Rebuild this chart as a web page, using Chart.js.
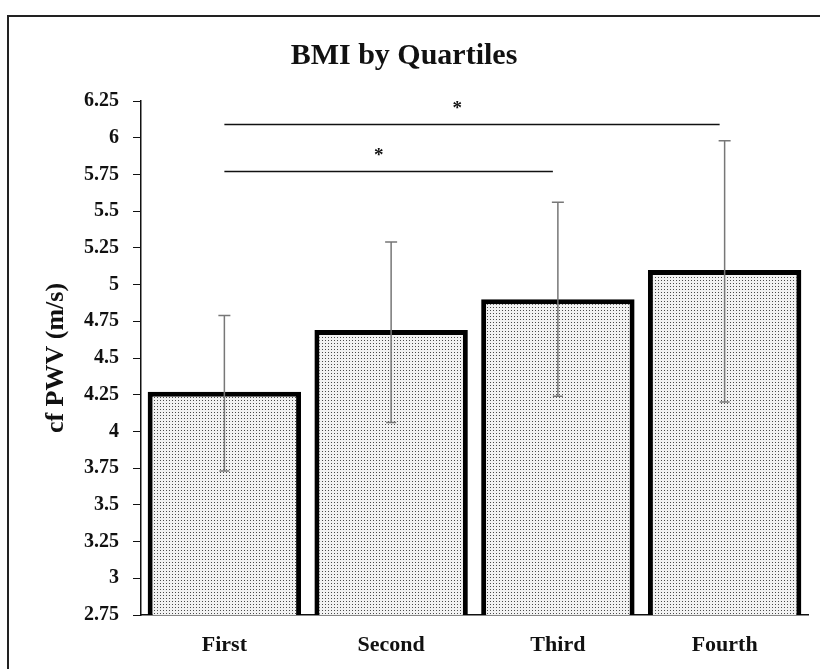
<!DOCTYPE html>
<html>
<head>
<meta charset="utf-8">
<script src="https://cdn.jsdelivr.net/npm/chart.js@4.4.1/dist/chart.umd.min.js"></script>
<style>
  html, body { margin: 0; padding: 0; background: #fff; overflow: hidden; }
  #frame { position: absolute; left: 7px; top: 15px; width: 840px; height: 700px; border: 2px solid #222; }
  #wrap { position: absolute; left: 0; top: 0; width: 820px; height: 669px; }
</style>
</head>
<body>
<div id="frame"></div>
<div id="wrap"><canvas id="chart" width="820" height="669"></canvas></div>
<script>
var quartiles = ['First', 'Second', 'Third', 'Fourth'];
var meanPwv = [4.27, 4.69, 4.90, 5.10];
var errLow = [3.73, 4.06, 4.24, 4.20];
var errHigh = [4.79, 5.29, 5.56, 5.98];
// significance brackets: from category, to category, height, label
var sigFrom = ['First', 'First'];
var sigTo = ['Third', 'Fourth'];
var sigLevel = [5.77, 6.09];
var sigLabel = ['*', '*'];

var serif = '"Liberation Serif", "Times New Roman", serif';

// dotted fill like the original
function dotPattern() {
	var c = document.createElement('canvas');
	c.width = 3;
	c.height = 3;
	var g = c.getContext('2d');
	g.fillStyle = '#f2f2f2';
	g.fillRect(0, 0, 3, 3);
	g.fillStyle = '#4a4a4a';
	g.fillRect(1, 1, 1, 1);
	return g.createPattern(c, 'repeat');
}

var ctx = document.getElementById('chart');

var extras = {
	id: 'extras',
	afterDatasetsDraw: function (chart) {
		var c = chart.ctx;
		var x = chart.scales.x;
		var y = chart.scales.y;
		c.save();
		// error bars
		c.strokeStyle = '#777';
		c.lineWidth = 1.5;
		quartiles.forEach(function (q, i) {
			var px = x.getPixelForValue(i);
			var top = y.getPixelForValue(errHigh[i]);
			var bot = y.getPixelForValue(errLow[i]);
			c.beginPath();
			c.moveTo(px, top);
			c.lineTo(px, bot);
			c.moveTo(px - 6, top);
			c.lineTo(px + 6, top);
			c.moveTo(px - 5, bot);
			c.lineTo(px + 5, bot);
			c.stroke();
		});
		// significance lines
		c.strokeStyle = '#111';
		c.lineWidth = 1.5;
		c.fillStyle = '#111';
		c.font = 'bold 19px ' + serif;
		c.textAlign = 'center';
		c.textBaseline = 'bottom';
		sigLevel.forEach(function (lv, i) {
			var x1 = x.getPixelForValue(quartiles.indexOf(sigFrom[i]));
			var x2 = x.getPixelForValue(quartiles.indexOf(sigTo[i])) - 5;
			var py = y.getPixelForValue(lv);
			c.beginPath();
			c.moveTo(x1, py);
			c.lineTo(x2, py);
			c.stroke();
			c.fillText(sigLabel[i], x1 + (x2 - x1) * 0.47, py - 6);
		});
		c.restore();
	}
};

new Chart(ctx, {
	type: 'bar',
	data: {
		labels: quartiles,
		datasets: [{
			data: meanPwv,
			backgroundColor: dotPattern(),
			borderColor: '#000',
			borderWidth: 5,
			borderSkipped: false,
			barPercentage: 0.92,
			categoryPercentage: 1,
		}],
	},
	options: {
		responsive: false,
		animation: false,
		events: [],
		layout: {
			padding: { left: 0, right: 12, top: 0, bottom: 0 }
		},
		plugins: {
			legend: { display: false },
			tooltip: { enabled: false },
			title: {
				display: true,
				text: 'BMI by Quartiles',
				color: '#111',
				font: { family: serif, size: 30, weight: 'bold' },
				padding: { top: 38, bottom: 27 }
			}
		},
		scales: {
			x: {
				grid: { display: false },
				border: { display: true, color: '#111', width: 1.5 },
				ticks: {
					color: '#111',
					padding: 9,
					font: { family: serif, size: 22, weight: 'bold' }
				},
				afterFit: function (s) { s.height = 54; }
			},
			y: {
				min: 2.75,
				max: 6.25,
				grid: {
					drawOnChartArea: false,
					drawTicks: true,
					tickLength: 8,
					color: '#111'
				},
				border: { display: true, color: '#111', width: 1.5 },
				ticks: {
					stepSize: 0.25,
					color: '#111',
					padding: 14,
					font: { family: serif, size: 20, weight: 'bold' },
					callback: function (v) { return String(+v.toFixed(2)); }
				},
				title: {
					display: true,
					text: 'cf PWV (m/s)',
					color: '#111',
					font: { family: serif, size: 26, weight: 'bold' },
					padding: { top: 41, bottom: 0 }
				},
				afterFit: function (s) { s.width = 141; }
			}
		}
	},
	plugins: [extras]
});
</script>
</body>
</html>
